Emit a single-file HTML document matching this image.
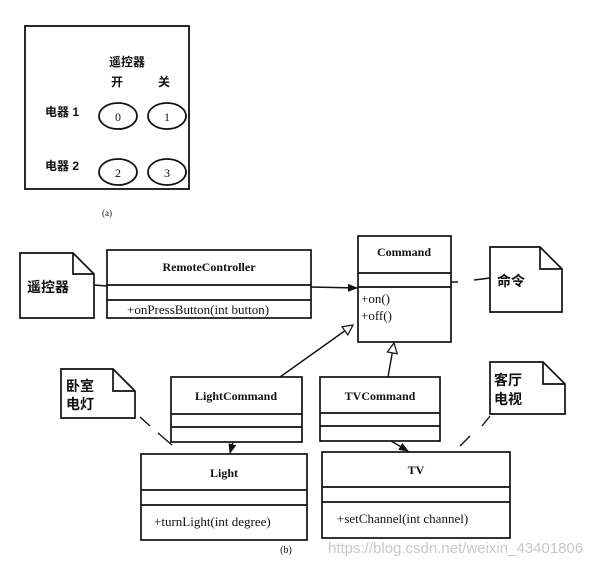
<!DOCTYPE html>
<html><head><meta charset="utf-8"><style>
body{margin:0;background:#fff;}
svg text{font-family:"Liberation Serif","Noto Serif CJK SC",serif;fill:#111;}
.c{font-family:"Liberation Sans","Noto Sans CJK SC",sans-serif;font-weight:bold;}
</style></head><body>
<svg width="605" height="565" viewBox="0 0 605 565" xmlns="http://www.w3.org/2000/svg">
<defs>
<marker id="f" markerWidth="10" markerHeight="8" refX="9" refY="4" orient="auto" markerUnits="userSpaceOnUse"><path d="M0,0 L10,4 L0,8 Z" fill="#111"/></marker>
<marker id="h" markerWidth="12" markerHeight="12" refX="11" refY="6" orient="auto" markerUnits="userSpaceOnUse"><path d="M1,1 L11,6 L1,11 Z" fill="#fff" stroke="#111" stroke-width="1.2"/></marker>
</defs>
<g stroke="#111" stroke-width="1.8" fill="none">
<rect x="25" y="26" width="164" height="163"/>
<ellipse cx="118" cy="116" rx="19" ry="13"/><ellipse cx="167" cy="116" rx="19" ry="13"/>
<ellipse cx="118" cy="172" rx="19" ry="13"/><ellipse cx="167" cy="172" rx="19" ry="13"/>
</g>
<text x="127" y="66" font-size="12" text-anchor="middle" class="c">遥控器</text>
<text x="117" y="86" font-size="12" text-anchor="middle" class="c">开</text>
<text x="164" y="86" font-size="12" text-anchor="middle" class="c">关</text>
<text x="45" y="116" font-size="12" class="c">电器 1</text>
<text x="45" y="170" font-size="12" class="c">电器 2</text>
<text x="118" y="121" font-size="12" text-anchor="middle">0</text>
<text x="167" y="121" font-size="12" text-anchor="middle">1</text>
<text x="118" y="177" font-size="12" text-anchor="middle">2</text>
<text x="167" y="177" font-size="12" text-anchor="middle">3</text>
<text x="107" y="216" font-size="9" text-anchor="middle">(a)</text>

<g stroke="#111" stroke-width="1.7" fill="#fff">
<path d="M20,253 H73 L94,274 V318 H20 Z"/><path d="M73,253 V274 H94" fill="none"/>
<path d="M490,247 H540 L562,269 V312 H490 Z"/><path d="M540,247 V269 H562" fill="none"/>
<path d="M61,369 H113 L135,391 V418 H61 Z"/><path d="M113,369 V391 H135" fill="none"/>
<path d="M490,362 H543 L565,384 V414 H490 Z"/><path d="M543,362 V384 H565" fill="none"/>
<rect x="107" y="250" width="204" height="68"/><line x1="107" y1="285" x2="311" y2="285"/><line x1="107" y1="300" x2="311" y2="300"/>
<rect x="358" y="236" width="93" height="106"/><line x1="358" y1="273" x2="451" y2="273"/><line x1="358" y1="287" x2="451" y2="287"/>
<rect x="171" y="377" width="131" height="65"/><line x1="171" y1="414" x2="302" y2="414"/><line x1="171" y1="427" x2="302" y2="427"/>
<rect x="320" y="377" width="120" height="64"/><line x1="320" y1="413" x2="440" y2="413"/><line x1="320" y1="426" x2="440" y2="426"/>
<rect x="141" y="454" width="166" height="86"/><line x1="141" y1="490" x2="307" y2="490"/><line x1="141" y1="505" x2="307" y2="505"/>
<rect x="322" y="452" width="188" height="86"/><line x1="322" y1="487" x2="510" y2="487"/><line x1="322" y1="502" x2="510" y2="502"/>
</g>
<g stroke="#111" stroke-width="1.4" fill="none">
<line x1="94" y1="285" x2="107" y2="286"/>
<line x1="311" y1="287" x2="357" y2="288" marker-end="url(#f)"/>
<line x1="280" y1="377" x2="353" y2="325" marker-end="url(#h)"/>
<line x1="388" y1="377" x2="394" y2="343" marker-end="url(#h)"/>
<line x1="233" y1="442" x2="230" y2="453" marker-end="url(#f)"/>
<line x1="391" y1="441" x2="408" y2="451" marker-end="url(#f)"/>
<path d="M140,417 L150,426 M158,433 L172,445" />
<path d="M490,416 L482,426 M470,436 L460,446"/>
<path d="M451,282 L458,282 M474,280 L490,278"/>
</g>
<text x="27" y="292" font-size="14" class="c">遥控器</text>
<text x="497" y="286" font-size="14" class="c">命令</text>
<text x="66" y="391" font-size="14" class="c">卧室</text>
<text x="66" y="409" font-size="14" class="c">电灯</text>
<text x="494" y="385" font-size="14" class="c">客厅</text>
<text x="494" y="404" font-size="14" class="c">电视</text>
<g font-size="12" font-weight="bold" text-anchor="middle">
<text x="209" y="271">RemoteController</text>
<text x="404" y="256">Command</text>
<text x="236" y="400">LightCommand</text>
<text x="380" y="400">TVCommand</text>
<text x="224" y="477">Light</text>
<text x="416" y="474">TV</text>
</g>
<g font-size="13">
<text x="127" y="314">+onPressButton(int  button)</text>
<text x="361" y="303">+on()</text>
<text x="361" y="320">+off()</text>
<text x="154" y="526">+turnLight(int degree)</text>
<text x="337" y="523">+setChannel(int channel)</text>
</g>
<text x="286" y="553" font-size="10" text-anchor="middle">(b)</text>
<text x="328" y="553" font-size="15" class="c" style="fill:#c8c8c8;font-weight:normal">https://blog.csdn.net/weixin_43401806</text>
</svg>
</body></html>
